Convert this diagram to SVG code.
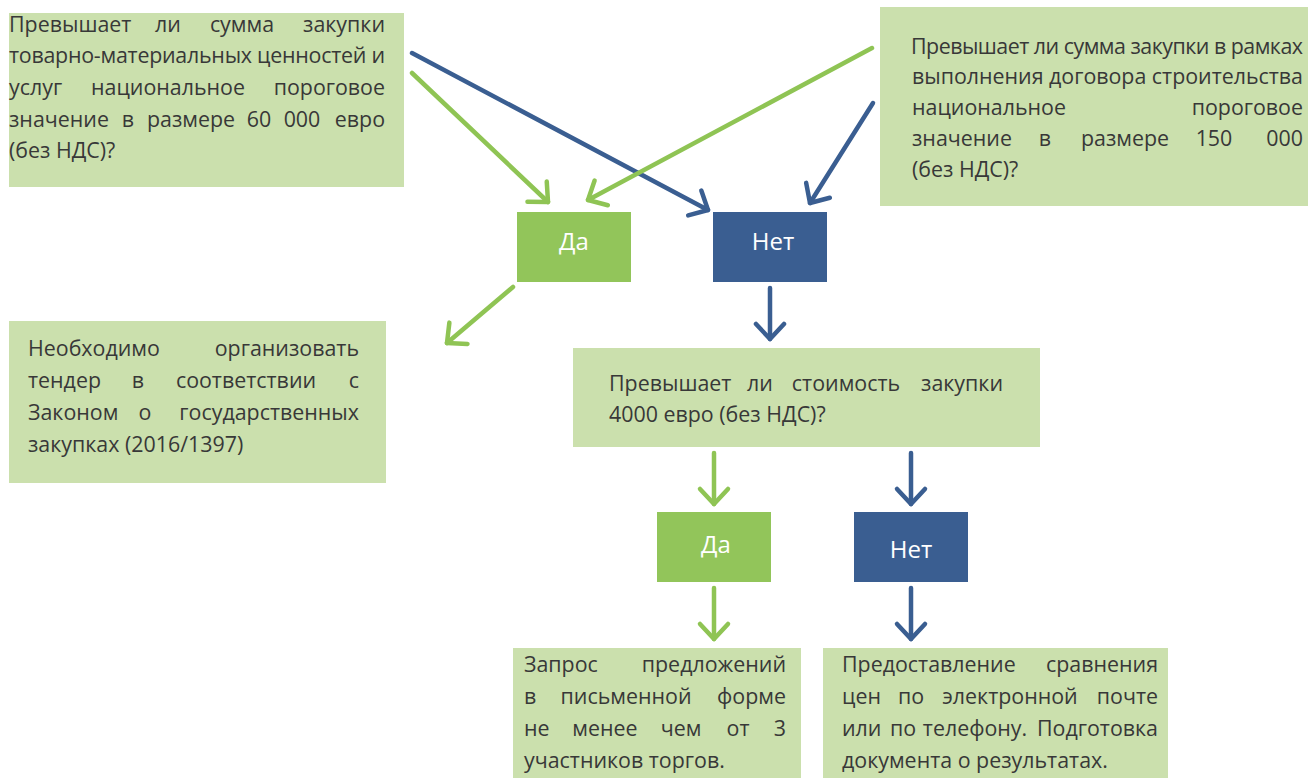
<svg xmlns="http://www.w3.org/2000/svg" width="1308" height="778" viewBox="0 0 1308 778">
<style>
.box{fill:#cbe0ad}
.yes{fill:#92c55a}
.no{fill:#3a5e91}
.t{font-family:"Open Sans","Noto Sans","Liberation Sans",sans-serif;font-size:21.4px;fill:#383838}
.m{text-anchor:middle}
.e{text-anchor:end}
.lbl{font-family:"Open Sans","Noto Sans","Liberation Sans",sans-serif;font-size:24px;fill:#ffffff;text-anchor:middle}
.ag{stroke:#8fc454;stroke-width:4.5;stroke-linecap:round;fill:none}
.ab{stroke:#3a5e91;stroke-width:4.5;stroke-linecap:round;fill:none}
</style>
<defs>
<marker id="hg" markerUnits="userSpaceOnUse" viewBox="-20 -20 30 40" refX="0" refY="0" markerWidth="30" markerHeight="40" orient="auto" overflow="visible">
<path d="M -15,-14 L 0,0 L -15,14" fill="none" stroke="#8fc454" stroke-width="4.5" stroke-linecap="round" stroke-linejoin="round"/>
</marker>
<marker id="hb" markerUnits="userSpaceOnUse" viewBox="-20 -20 30 40" refX="0" refY="0" markerWidth="30" markerHeight="40" orient="auto" overflow="visible">
<path d="M -15,-14 L 0,0 L -15,14" fill="none" stroke="#3a5e91" stroke-width="4.5" stroke-linecap="round" stroke-linejoin="round"/>
</marker>
</defs>

<g id="q1">
<rect class="box" x="9" y="13" width="395" height="174"/>
<g class="t">
<text x="9" y="32">Превышает</text>
<text class="m" x="168" y="32">ли</text>
<text class="m" x="242" y="32">сумма</text>
<text class="e" x="385" y="32">закупки</text>
<text x="9" y="63" textLength="376">товарно-материальных ценностей и</text>
<text x="9" y="95">услуг</text>
<text class="m" x="168" y="95">национальное</text>
<text class="e" x="385" y="95">пороговое</text>
<text x="9" y="127">значение</text>
<text class="m" x="128" y="127">в</text>
<text class="m" x="191" y="127">размере</text>
<text class="m" x="259" y="127">60</text>
<text class="m" x="302" y="127">000</text>
<text class="e" x="385" y="127">евро</text>
<text x="9" y="158">(без НДС)?</text>
</g>
</g>

<g id="q2">
<rect class="box" x="880" y="7" width="428" height="199"/>
<g class="t">
<text x="911" y="54" textLength="392">Превышает ли сумма закупки в рамках</text>
<text x="912" y="84" textLength="391">выполнения договора строительства</text>
<text x="912" y="115">национальное</text>
<text class="e" x="1303" y="115">пороговое</text>
<text x="912" y="146">значение</text>
<text class="m" x="1045" y="146">в</text>
<text class="m" x="1125" y="146">размере</text>
<text class="m" x="1214" y="146">150</text>
<text class="e" x="1303" y="146">000</text>
<text x="912" y="177">(без НДС)?</text>
</g>
</g>

<g id="yes1">
<rect class="yes" x="517" y="212" width="114" height="70"/>
<text class="lbl" x="574" y="250">Да</text>
</g>
<g id="no1">
<rect class="no" x="713" y="212" width="114" height="70"/>
<text class="lbl" x="773" y="250">Нет</text>
</g>

<g id="tender">
<rect class="box" x="9" y="321" width="377" height="162"/>
<g class="t">
<text x="28" y="356">Необходимо</text>
<text class="e" x="359" y="356">организовать</text>
<text x="28" y="388">тендер</text>
<text class="m" x="138" y="388">в</text>
<text class="m" x="246" y="388">соответствии</text>
<text class="e" x="359" y="388">с</text>
<text x="28" y="420">Законом</text>
<text class="m" x="145" y="420">о</text>
<text class="e" x="359" y="420">государственных</text>
<text x="28" y="452">закупках (2016/1397)</text>
</g>
</g>

<g id="q3">
<rect class="box" x="573" y="348" width="467" height="99"/>
<g class="t">
<text x="609" y="391">Превышает</text>
<text class="m" x="760" y="391">ли</text>
<text class="m" x="846" y="391">стоимость</text>
<text class="e" x="1003" y="391">закупки</text>
<text x="609" y="422">4000 евро (без НДС)?</text>
</g>
</g>

<g id="yes2">
<rect class="yes" x="657" y="512" width="114" height="70"/>
<text class="lbl" x="716" y="553">Да</text>
</g>
<g id="no2">
<rect class="no" x="854" y="512" width="114" height="70"/>
<text class="lbl" x="911" y="558">Нет</text>
</g>

<g id="request">
<rect class="box" x="513" y="648" width="288" height="130"/>
<g class="t">
<text x="524" y="672">Запрос</text>
<text class="e" x="786" y="672">предложений</text>
<text x="524" y="704">в</text>
<text class="m" x="626" y="704">письменной</text>
<text class="e" x="786" y="704">форме</text>
<text x="524" y="736">не</text>
<text class="m" x="605" y="736">менее</text>
<text class="m" x="681" y="736">чем</text>
<text class="m" x="738" y="736">от</text>
<text class="e" x="786" y="736">3</text>
<text x="524" y="768">участников торгов.</text>
</g>
</g>

<g id="compare">
<rect class="box" x="823" y="648" width="345" height="130"/>
<g class="t">
<text x="842" y="672">Предоставление</text>
<text class="e" x="1158" y="672">сравнения</text>
<text x="842" y="704">цен</text>
<text class="m" x="911" y="704">по</text>
<text class="m" x="1010" y="704">электронной</text>
<text class="e" x="1158" y="704">почте</text>
<text x="842" y="736">или</text>
<text class="m" x="903" y="736">по</text>
<text class="m" x="975" y="736">телефону.</text>
<text class="e" x="1158" y="736">Подготовка</text>
<text x="842" y="768">документа о результатах.</text>
</g>
</g>

<g id="connectors">
<line class="ab" x1="412" y1="53" x2="708" y2="210" marker-end="url(#hb)"/>
<line class="ag" x1="412" y1="73" x2="548" y2="202" marker-end="url(#hg)"/>
<line class="ag" x1="872" y1="48" x2="588" y2="200" marker-end="url(#hg)"/>
<line class="ab" x1="873" y1="103" x2="810" y2="203" marker-end="url(#hb)"/>
<line class="ag" x1="513" y1="287" x2="447" y2="343" marker-end="url(#hg)"/>
<line class="ab" x1="770" y1="288" x2="770" y2="339" marker-end="url(#hb)"/>
<line class="ag" x1="714" y1="453" x2="714" y2="504" marker-end="url(#hg)"/>
<line class="ab" x1="911" y1="453" x2="911" y2="504" marker-end="url(#hb)"/>
<line class="ag" x1="714" y1="588" x2="714" y2="639" marker-end="url(#hg)"/>
<line class="ab" x1="911" y1="588" x2="911" y2="639" marker-end="url(#hb)"/>
</g>
</svg>
